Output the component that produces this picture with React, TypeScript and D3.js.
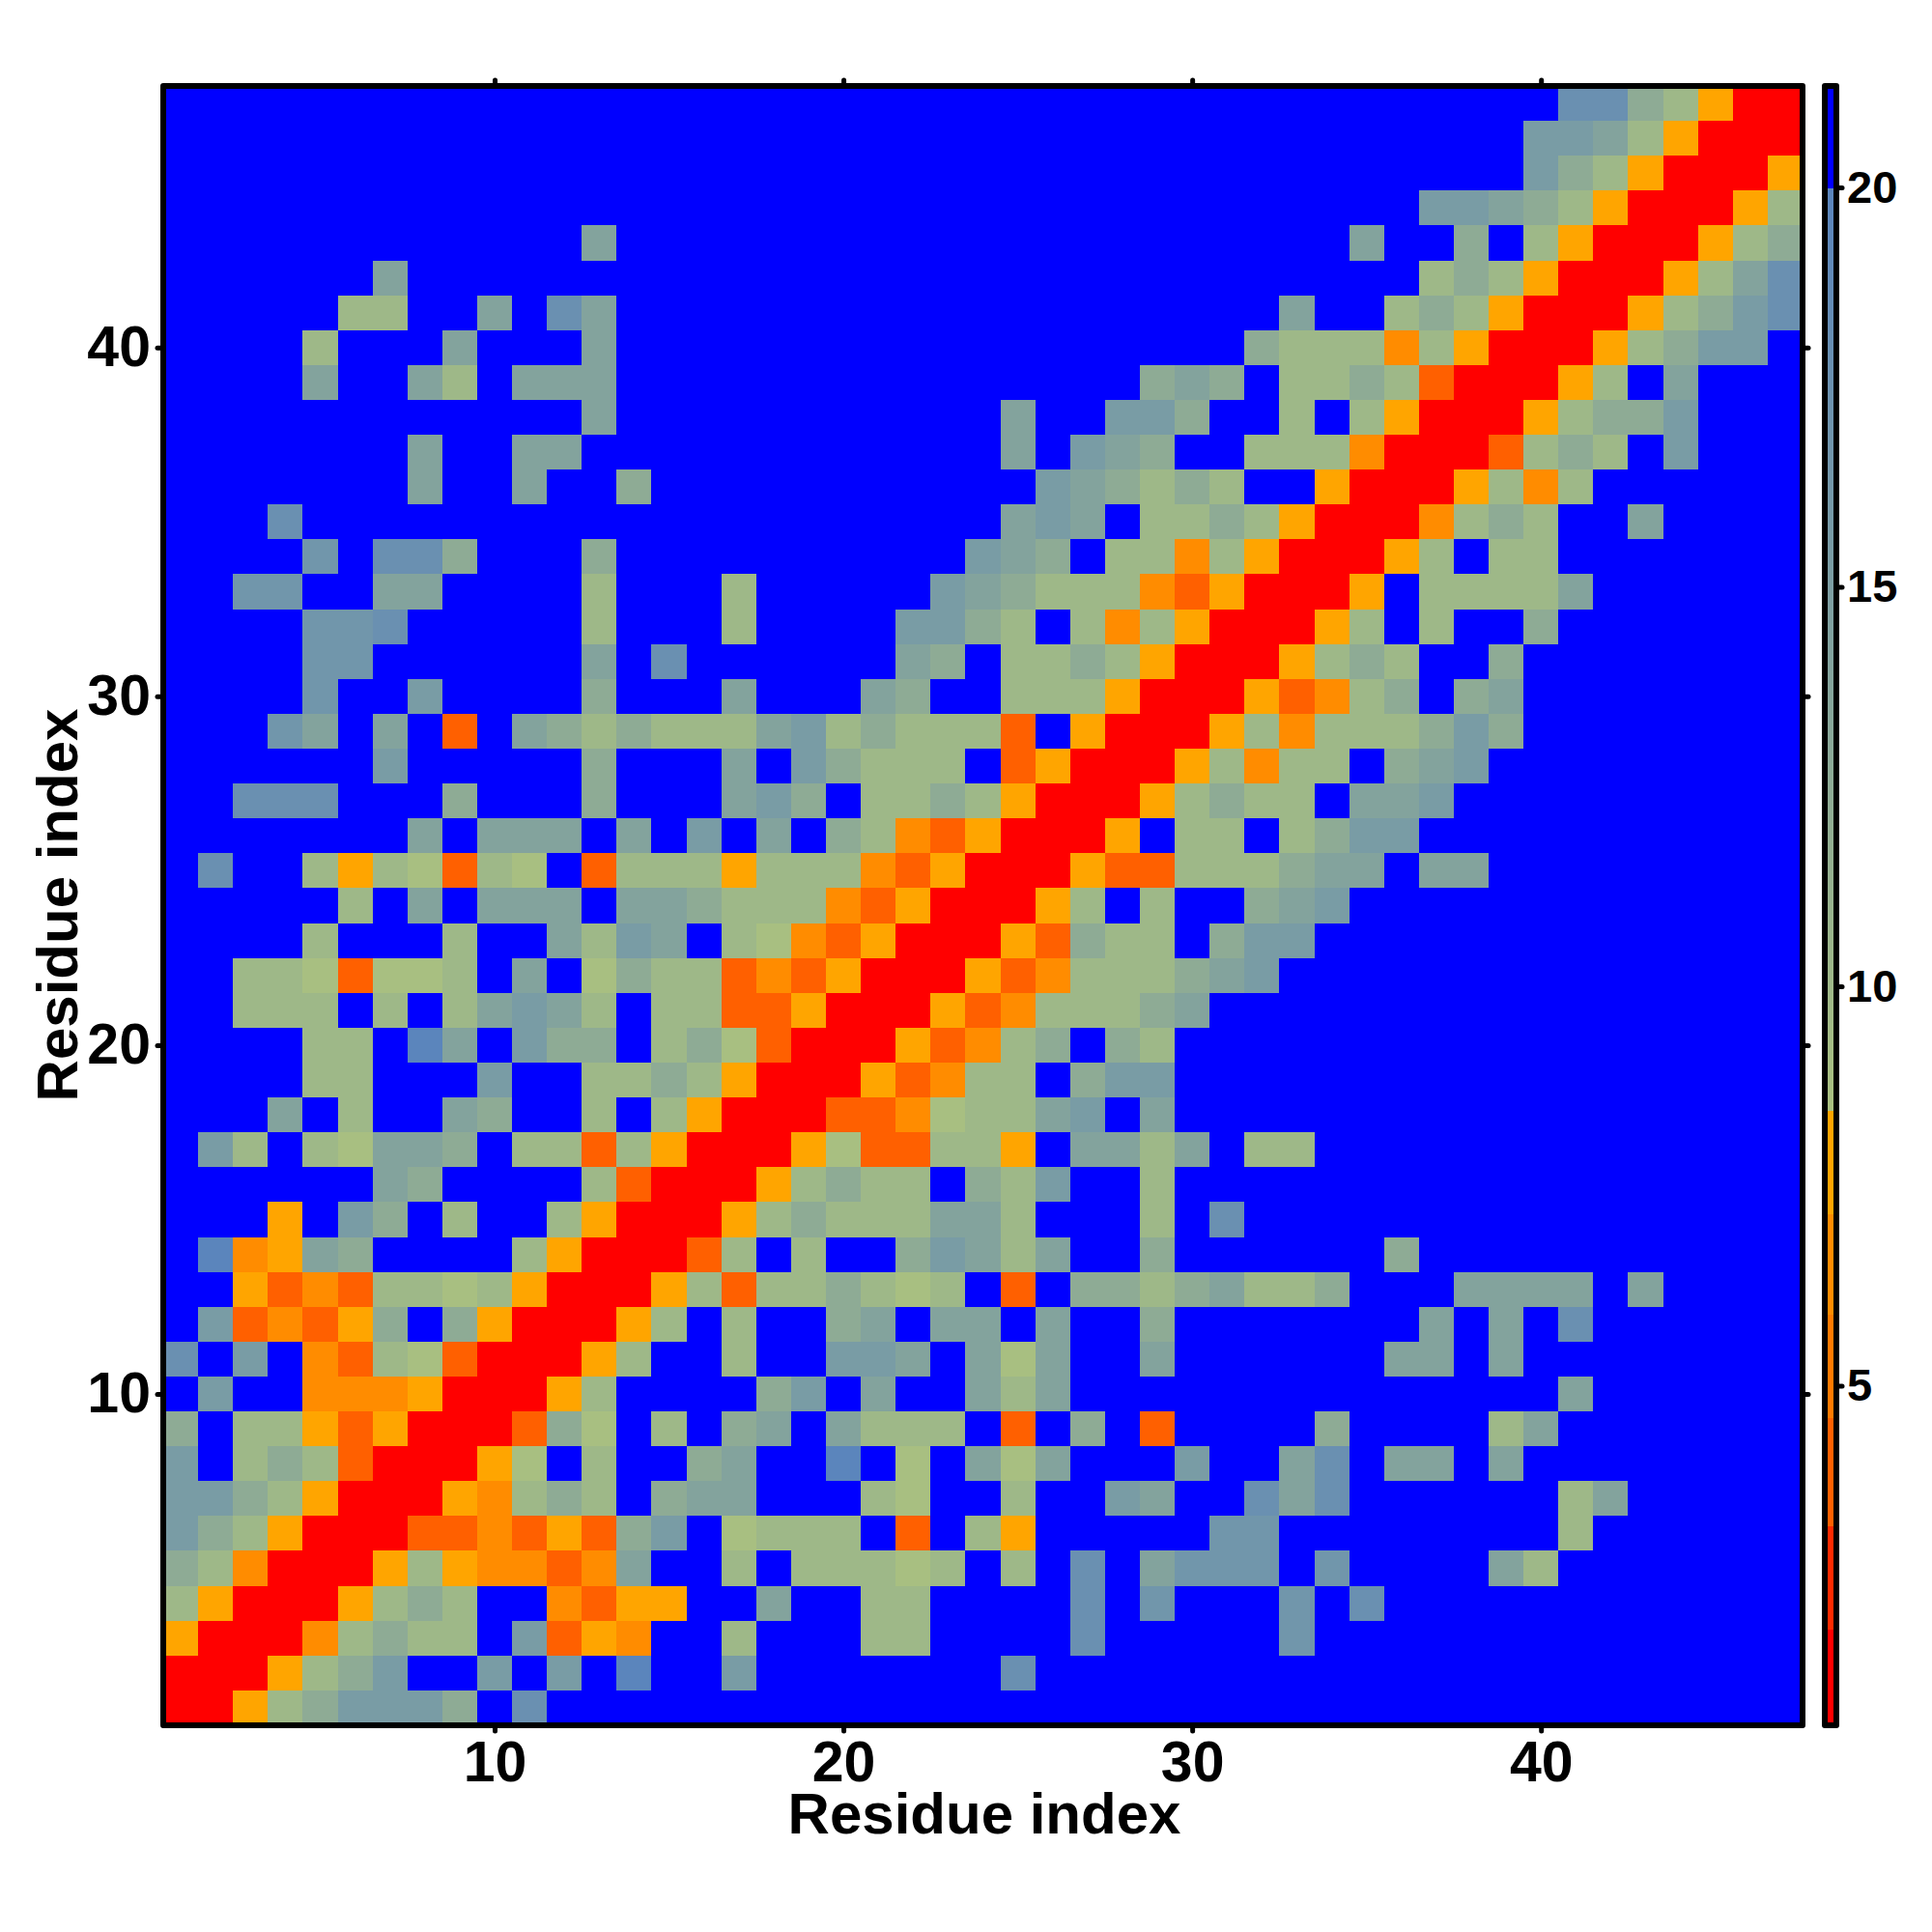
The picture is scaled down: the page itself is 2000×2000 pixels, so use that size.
import React, { useRef, useEffect } from 'react';
import * as d3 from 'd3';

// lower triangle of the symmetric distance map, row 1 is the bottom row
const distanceRows: string[] = [
  'R',
  'RR',
  'ORR',
  '6ORR',
  '56DRR',
  '356ORR',
  '3356ORR',
  '3.656FRR',
  '5.66OFORR',
  '.3..DDDORR',
  '2.3.DF67FRR',
  '.3FDFO5.5ORR',
  '..OFDF6676ORR',
  '.1DO45....6ORR',
  '...O.35.6..6ORR',
  '......45....6FRR',
  '.36.67445.66F6ORR',
  '...4.6..45..6.6ORR',
  '....66...3..6656ORR',
  '....66.14.355.657FRR',
  '..666.6.64346.66FFORR',
  '..667F776.4.7566FDFORR',
  '....6...6..4634.67DFORR',
  '.....6.4.444.445666DFORR',
  '.2..6O67F67.F666O666DFORR',
  '.......4.444.4.3.4.56DFORR',
  '..222...5...5...435.6656ORR',
  '......3.....5...4.35666.FORR',
  '...a4.4.F.45656664365666F.ORR',
  '....a..3....5...4...45..666ORR',
  '....aa......4.2......45.6656ORR',
  '....aa2.....6...6....3356.6D6ORR',
  '..aa..44....6...6.....345666DFORR',
  '....a.225...5..........345.66D6ORR',
  '...2....................434.6656ORR',
  '.......4..4..5...........345656..ORR',
  '.......4..44............4.345..666DRR',
  '............4...........4..335..6.6ORR',
  '....4..46.444...............545.6656FRR',
  '....6...4...4..................5666D6ORR',
  '.....66..4.24...................4..656ORR',
  '......4.............................656ORR',
  '............4.....................4..5.6ORR',
  '....................................33456ORR',
  '.......................................356ORR',
  '.......................................3346ORR',
  '........................................2256ORR',
];

// distance (in the colour bar's units) for each letter used above
const distanceByCode: Record<string, number> = {
  '.': 21,
  '1': 19.8,
  '2': 17.7,
  a: 16.6,
  '3': 15.4,
  '4': 14,
  '5': 12.4,
  '6': 10,
  '7': 8.6,
  O: 7.8,
  D: 6.5,
  F: 4,
  R: 1,
};

const residueTicks = [10, 20, 30, 40];
const colorbarTicks = [5, 10, 15, 20];
const lowBreaks = [1.91, 3.24, 4.57, 5.87, 7.15, 8.45];
const lowColors = ['#ff0000', '#ff2a00', '#ff6000', '#ff7a00', '#ff8c00', '#ffa500'];

const FONT = '"Liberation Sans", Arial, sans-serif';

const colorFor = (v: number): string => {
  if (v >= 20) return '#0000ff';
  if (v < 8.45) {
    return d3.scaleThreshold<number, string>().domain(lowBreaks).range([...lowColors, '#ffa500'])(v);
  }
  return d3.scaleLinear<string>().domain([8.45, 20]).range(['#a9c080', '#5a84bd'])(v);
};

const App: React.FC = () => {
  const svgRef = useRef<SVGSVGElement | null>(null);

  useEffect(() => {
    const svg = d3.select(svgRef.current);
    svg.selectAll('*').remove();

    const x = d3.scaleLinear().domain([0.5, 47.5]).range([169, 1866]);
    const y = d3.scaleLinear().domain([0.5, 47.5]).range([1786, 89]);
    const barY = d3.scaleLinear().domain([0.75, 21.27]).range([1786, 89]);

    // mirror the triangle into the full matrix
    const cells: { col: number; row: number; value: number }[] = [];
    distanceRows.forEach((codes, r) => {
      codes.split('').forEach((code, c) => {
        const value = distanceByCode[code];
        cells.push({ col: c + 1, row: r + 1, value });
        if (c !== r) cells.push({ col: r + 1, row: c + 1, value });
      });
    });

    svg
      .append('g')
      .attr('shape-rendering', 'crispEdges')
      .selectAll('rect')
      .data(cells)
      .enter()
      .append('rect')
      .attr('x', (d) => x(d.col - 0.5))
      .attr('y', (d) => y(d.row + 0.5))
      .attr('width', (d) => x(d.col + 0.5) - x(d.col - 0.5))
      .attr('height', (d) => y(d.row - 0.5) - y(d.row + 0.5))
      .attr('fill', (d) => colorFor(d.value));

    // colour bar
    const barSteps = d3.range(0.75, 21.27, 0.05);
    svg
      .append('g')
      .attr('shape-rendering', 'crispEdges')
      .selectAll('rect')
      .data(barSteps)
      .enter()
      .append('rect')
      .attr('x', 1889)
      .attr('width', 12)
      .attr('y', (d) => barY(d + 0.05))
      .attr('height', (d) => barY(d) - barY(d + 0.05) + 0.5)
      .attr('fill', (d) => colorFor(d));

    const styleAxis = (g: d3.Selection<SVGGElement, unknown, null, undefined>, size: number) => {
      g.select('.domain').remove();
      g.selectAll('line').attr('stroke', '#000').attr('stroke-width', 5).attr('stroke-linecap', 'round');
      g.selectAll('text')
        .attr('fill', '#000')
        .style('font-family', FONT)
        .style('font-weight', 'bold')
        .style('font-size', `${size}px`);
    };

    svg
      .append('g')
      .attr('transform', 'translate(0,1786)')
      .call(d3.axisBottom(x).tickValues(residueTicks).tickSize(6).tickPadding(10))
      .call(styleAxis, 59);
    svg
      .append('g')
      .attr('transform', 'translate(0,89)')
      .call(d3.axisTop(x).tickValues(residueTicks).tickSize(6).tickFormat(() => ''))
      .call(styleAxis, 59);
    svg
      .append('g')
      .attr('transform', 'translate(169,0)')
      .call(d3.axisLeft(y).tickValues(residueTicks).tickSize(6).tickPadding(7))
      .call(styleAxis, 59);
    svg
      .append('g')
      .attr('transform', 'translate(1866,0)')
      .call(d3.axisRight(y).tickValues(residueTicks).tickSize(6).tickFormat(() => ''))
      .call(styleAxis, 59);
    svg
      .append('g')
      .attr('transform', 'translate(1901,0)')
      .call(d3.axisRight(barY).tickValues(colorbarTicks).tickSize(6).tickPadding(5))
      .call(styleAxis, 47);

    // frames
    svg
      .append('rect')
      .attr('x', x(0.5))
      .attr('y', y(47.5))
      .attr('width', x(47.5) - x(0.5))
      .attr('height', y(0.5) - y(47.5))
      .attr('fill', 'none')
      .attr('stroke', '#000')
      .attr('stroke-width', 6)
      .attr('stroke-linejoin', 'round');
    svg
      .append('rect')
      .attr('x', 1889)
      .attr('y', barY(21.27))
      .attr('width', 12)
      .attr('height', barY(0.75) - barY(21.27))
      .attr('fill', 'none')
      .attr('stroke', '#000')
      .attr('stroke-width', 6)
      .attr('stroke-linejoin', 'round');

    svg
      .append('text')
      .attr('x', 1019)
      .attr('y', 1898)
      .attr('text-anchor', 'middle')
      .style('font-family', FONT)
      .style('font-weight', 'bold')
      .style('font-size', '60px')
      .text('Residue index');
    svg
      .append('text')
      .attr('transform', 'translate(80,937) rotate(-90)')
      .attr('text-anchor', 'middle')
      .style('font-family', FONT)
      .style('font-weight', 'bold')
      .style('font-size', '60px')
      .text('Residue index');
  }, []);

  return (
    <svg
      ref={svgRef}
      width={2000}
      height={2000}
      style={{ position: 'absolute', left: 0, top: 0, background: '#fff' }}
    ></svg>
  );
};

export default App;
